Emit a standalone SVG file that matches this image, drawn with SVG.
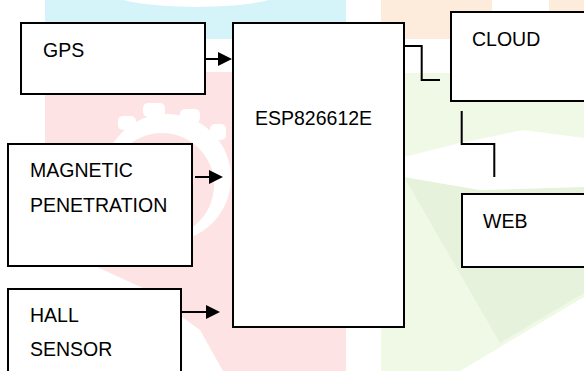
<svg xmlns="http://www.w3.org/2000/svg" width="584" height="371" viewBox="0 0 584 371">
<style>
.box{fill:#ffffff;stroke:#000000;stroke-width:2}
.lbl{font-family:"Liberation Sans",Arial,sans-serif;font-size:19.5px;fill:#000000}
.wire{fill:none;stroke:#000000;stroke-width:2}
.wm{fill:#ffffff}
</style>
<defs>
<marker id="arrow" markerUnits="userSpaceOnUse" markerWidth="14" markerHeight="14" refX="0" refY="7" orient="auto">
<path d="M0,0 L14,7 L0,14 Z" fill="#000000"/>
</marker>
</defs>
<g id="watermark">
<rect x="0" y="0" width="584" height="371" fill="#ffffff"/>
<rect x="45" y="0" width="301" height="39" fill="#d5f4fa"/>
<ellipse cx="196" cy="-8" rx="86" ry="15" fill="#ffffff"/>
<rect x="381" y="0" width="203" height="39" fill="#fdebdc"/>
<rect x="492" y="0" width="57" height="12" fill="#ffffff"/>
<polygon points="45,72 346,72 346,371 223,371 200,330 143,288 97,267 45,243" fill="#fde3e3"/>
<circle class="wm" cx="167" cy="178" r="64"/>
<rect class="wm" x="143" y="103" width="22" height="14" rx="5"/>
<rect class="wm" x="180" y="109" width="20" height="14" rx="5"/>
<rect class="wm" x="118" y="116" width="18" height="14" rx="5"/>
<rect class="wm" x="210" y="124" width="16" height="16" rx="5"/>
<circle cx="162" cy="185" r="52" fill="#fde3e3"/>
<rect x="381" y="73" width="203" height="298" fill="#f0f9e5"/>
<polygon points="404,177 480,190 584,187 584,293 500,343" fill="#e6f2dc"/>
<polygon points="404,157 460,143 523,130 584,138 584,187 480,190 404,177" fill="#ffffff"/>
<polygon points="460,371 584,297 584,371" fill="#ffffff"/>
</g>
<g id="connectors">
<line class="wire" x1="205" y1="59" x2="218" y2="59" marker-end="url(#arrow)"/>
<line class="wire" x1="195" y1="177" x2="209" y2="177" marker-end="url(#arrow)"/>
<line class="wire" x1="182" y1="312" x2="206" y2="312" marker-end="url(#arrow)"/>
<polyline class="wire" points="404,46 421.7,46 421.7,80 440,80"/>
<polyline class="wire" points="461.7,111 461.7,144 494.3,144 494.3,177"/>
</g>
<g id="gps">
<rect class="box" x="21" y="23" width="184" height="71"/>
<text class="lbl" x="43" y="57">GPS</text>
</g>
<g id="esp">
<rect class="box" x="233" y="23" width="171" height="304"/>
<text class="lbl" x="255" y="125">ESP826612E</text>
</g>
<g id="cloud">
<rect class="box" x="451" y="12" width="140" height="89"/>
<text class="lbl" x="472" y="46">CLOUD</text>
</g>
<g id="web">
<rect class="box" x="462" y="194" width="130" height="73"/>
<text class="lbl" x="483" y="228">WEB</text>
</g>
<g id="magnetic">
<rect class="box" x="8" y="144" width="184" height="122"/>
<text class="lbl" x="30" y="177">MAGNETIC</text>
<text class="lbl" x="30" y="212">PENETRATION</text>
</g>
<g id="hall">
<rect class="box" x="8" y="289" width="173" height="90"/>
<text class="lbl" x="30" y="322">HALL</text>
<text class="lbl" x="30" y="356">SENSOR</text>
</g>
</svg>
